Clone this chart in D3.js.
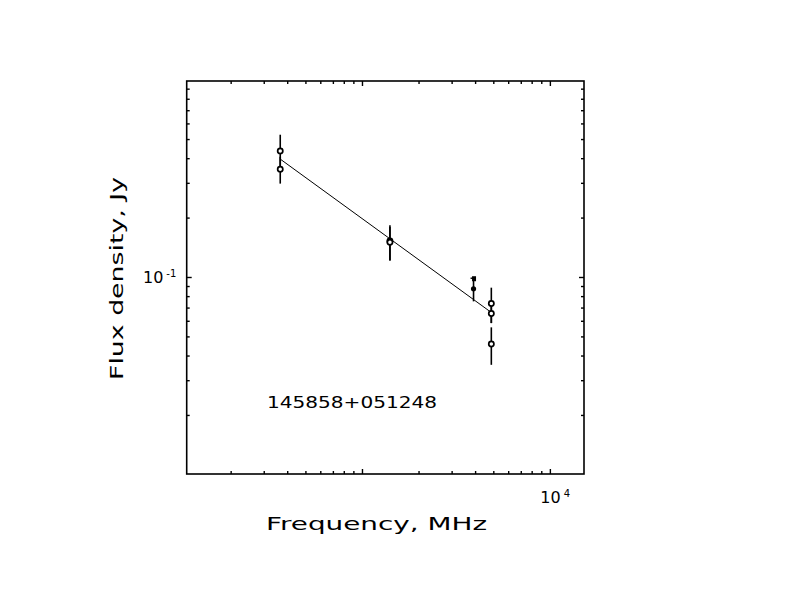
<!DOCTYPE html>
<html><head><meta charset="utf-8">
<script src="https://cdn.jsdelivr.net/npm/d3@7"></script>
<style>body{margin:0;background:#fff}</style>
</head><body>
<svg id="c" width="792" height="612"></svg>
<script>
// Data
const openFreq = [365, 365, 1400, 1400, 4850, 4850, 4850];
const openFlux = [0.438, 0.354, 0.153, 0.151, 0.0738, 0.0657, 0.046];
const openErr  = [0.091, 0.055, 0.031, 0.029, 0.015, 0.007, 0.0099];
const dotFreq = [3900];
const dotFlux = [0.0877];
const dotErr  = [0.012];
const sqFreq = [3900];
const sqFlux = [0.098];
const fitFreq = [365, 4850];
const fitFlux = [0.398, 0.0665];
const xDomain = [116, 15100];
const yDomain = [0.0101, 0.99];
const xLabelTicks = [10000];
const yLabelTicks = [0.1];
const sourceName = "145858+051248";

const svg = d3.select("#c");
const L = 186.7, R = 584, T = 81, B = 474;
const x = d3.scaleLog().domain(xDomain).range([L, R]);
const y = d3.scaleLog().domain(yDomain).range([B, T]);
const font = "DejaVu Sans, sans-serif";

svg.append("rect").attr("width",792).attr("height",612).attr("fill","#fff");
svg.append("rect").attr("x",L).attr("y",T).attr("width",R-L).attr("height",B-T)
  .attr("fill","none").attr("stroke","#000").attr("stroke-width",1.6);

const isMajor = v => Math.abs(Math.log10(v) - Math.round(Math.log10(v))) < 1e-6;
const g = svg.append("g").attr("stroke","#000").attr("stroke-width",1.4);
x.ticks().forEach(v => {
  const px = x(v), len = isMajor(v) ? 5 : 3;
  g.append("line").attr("x1",px).attr("x2",px).attr("y1",B).attr("y2",B-len);
  g.append("line").attr("x1",px).attr("x2",px).attr("y1",T).attr("y2",T+len);
});
y.ticks().forEach(v => {
  const py = y(v), len = isMajor(v) ? 5 : 3;
  g.append("line").attr("x1",L).attr("x2",L+len).attr("y1",py).attr("y2",py);
  g.append("line").attr("x1",R).attr("x2",R-len).attr("y1",py).attr("y2",py);
});

// tick labels
xLabelTicks.forEach(v => {
  const t = svg.append("text").attr("x",x(v)-10).attr("y",B+29).attr("font-family",font)
    .attr("font-size",16).attr("fill","#000");
  t.append("tspan").text("10");
  t.append("tspan").attr("dy",-6).attr("dx",3).attr("font-size",10).text(Math.round(Math.log10(v)));
});
yLabelTicks.forEach(v => {
  const t = svg.append("text").attr("x",143).attr("y",y(v)+6).attr("font-family",font)
    .attr("font-size",16).attr("fill","#000");
  t.append("tspan").text("10");
  t.append("tspan").attr("dy",-6).attr("dx",3).attr("font-size",10).text(Math.round(Math.log10(v)));
});

// fit line
svg.append("line").attr("x1",x(fitFreq[0])).attr("y1",y(fitFlux[0]))
  .attr("x2",x(fitFreq[1])).attr("y2",y(fitFlux[1]))
  .attr("stroke","#000").attr("stroke-width",1);

// error bars
const eb = svg.append("g").attr("stroke","#000").attr("stroke-width",1.6);
openFreq.forEach((f,i) => {
  eb.append("line").attr("x1",x(f)).attr("x2",x(f))
    .attr("y1",y(openFlux[i]+openErr[i])).attr("y2",y(openFlux[i]-openErr[i]));
});
dotFreq.forEach((f,i) => {
  eb.append("line").attr("x1",x(f)).attr("x2",x(f))
    .attr("y1",y(dotFlux[i]+dotErr[i])).attr("y2",y(dotFlux[i]-dotErr[i]));
});
// points
openFreq.forEach((f,i) => {
  svg.append("circle").attr("cx",x(f)).attr("cy",y(openFlux[i])).attr("r",2.6)
    .attr("fill","#fff").attr("stroke","#000").attr("stroke-width",1.7);
});
dotFreq.forEach((f,i) => {
  svg.append("circle").attr("cx",x(f)).attr("cy",y(dotFlux[i])).attr("r",2.6).attr("fill","#000");
});
sqFreq.forEach((f,i) => {
  svg.append("rect").attr("x",x(f)-1.5).attr("y",y(sqFlux[i])-3).attr("width",4).attr("height",5).attr("fill","#000");
  svg.append("line").attr("x1",x(f)-3).attr("x2",x(f)).attr("y1",y(sqFlux[i])-1).attr("y2",y(sqFlux[i])-1)
    .attr("stroke","#000").attr("stroke-width",1.4);
});

// labels
svg.append("text").attr("x",266).attr("y",530).attr("font-family",font).attr("font-size",18)
  .attr("textLength",221).attr("lengthAdjust","spacingAndGlyphs").attr("fill","#000").text("Frequency, MHz");
svg.append("text").attr("transform","translate(123,380) rotate(-90)").attr("font-family",font).attr("font-size",18)
  .attr("textLength",203).attr("lengthAdjust","spacingAndGlyphs").attr("fill","#000").text("Flux density, Jy");
svg.append("text").attr("x",267).attr("y",408).attr("font-family",font).attr("font-size",15)
  .attr("textLength",170).attr("lengthAdjust","spacingAndGlyphs").attr("fill","#000").text(sourceName);
</script>
</body></html>
